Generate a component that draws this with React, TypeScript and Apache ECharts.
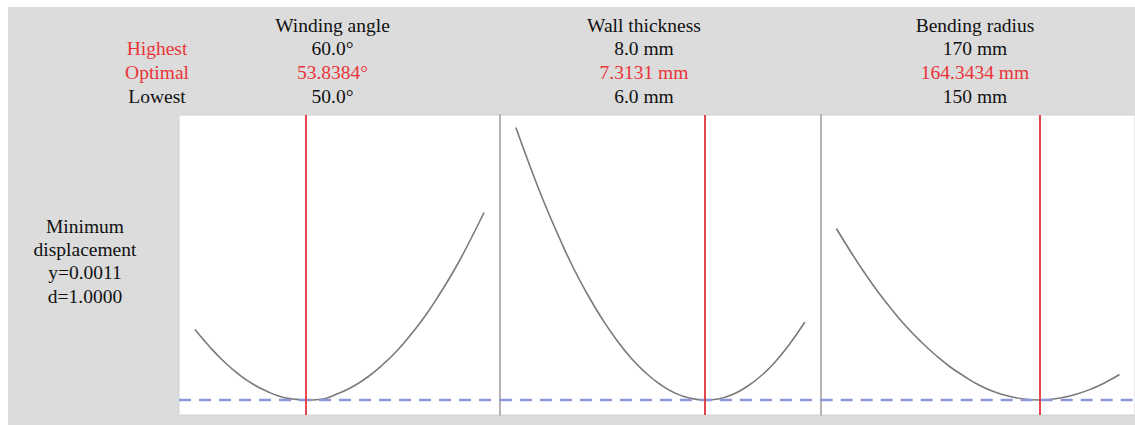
import React, { useEffect, useRef } from "react";
import * as echarts from "echarts";

const factorNames = ["Winding angle", "Wall thickness", "Bending radius"];
const highestLabels = ["60.0°", "8.0 mm", "170 mm"];
const optimalLabels = ["53.8384°", "7.3131 mm", "164.3434 mm"];
const lowestLabels = ["50.0°", "6.0 mm", "150 mm"];
const rowLabels = ["Highest", "Optimal", "Lowest"];
const lowValues = [50, 6, 150];
const highValues = [60, 8, 170];
const optimalValues = [53.8384, 7.3131, 164.3434];
const responseLabel = ["Minimum", "displacement", "y=0.0011", "d=1.0000"];
const targetY = 0.0011;

const windingX = [50, 50.5, 51, 51.5, 52, 52.5, 53, 53.4, 53.8384, 54.3, 55, 55.5, 56, 56.5, 57, 57.5, 58, 58.5, 59, 59.5, 60];
const windingY = [0.00251, 0.00217, 0.00187, 0.00162, 0.00142, 0.00127, 0.00116, 0.00112, 0.0011, 0.00111, 0.00124, 0.00138, 0.00157, 0.00181, 0.00209, 0.00243, 0.00281, 0.00325, 0.00373, 0.00427, 0.00485];
const wallX = [6.0, 6.1, 6.2, 6.3, 6.4, 6.5, 6.6, 6.7, 6.8, 6.9, 7.0, 7.1, 7.2, 7.3131, 7.4, 7.5, 7.6, 7.7, 7.8, 7.9, 8.0];
const wallY = [0.00655, 0.00576, 0.00502, 0.00435, 0.00373, 0.00319, 0.00271, 0.00229, 0.00193, 0.00164, 0.00141, 0.00124, 0.00114, 0.0011, 0.00112, 0.00121, 0.00137, 0.00159, 0.00188, 0.00224, 0.00266];
const radiusX = [150, 151, 152, 153, 154, 155, 156, 157, 158, 159, 160, 161, 162, 163, 164.3434, 165, 166, 167, 168, 169, 170];
const radiusY = [0.00453, 0.00407, 0.00364, 0.00324, 0.00288, 0.00255, 0.00226, 0.0020, 0.00177, 0.00158, 0.00141, 0.00128, 0.00119, 0.00113, 0.0011, 0.00111, 0.00115, 0.00122, 0.00132, 0.00145, 0.00161];

const curvesX = [windingX, wallX, radiusX];
const curvesY = [windingY, wallY, radiusY];

const FONT = "'Liberation Serif', 'Times New Roman', serif";
const RED = "#ea3438";

export default function App() {
  const ref = useRef<HTMLDivElement>(null);
  useEffect(() => {
    if (!ref.current) return;
    const chart = echarts.init(ref.current, undefined, { renderer: "svg" });
    const panelLeft = [179, 499.85, 820.7];
    const panelW = 320.85;
    const insetL = 16;
    const span = 289;
    const insetR = panelW - insetL - span;
    const headerX = [332.5, 644, 975];
    const rowsY = [25, 48.5, 72, 96];

    const grids = panelLeft.map((l) => ({
      left: l,
      top: 115,
      width: panelW,
      height: 300,
      show: true,
      backgroundColor: "#ffffff",
      borderColor: "#d2d2d2",
      borderWidth: 1,
    }));
    const ranges = lowValues.map((lo, i) => {
      const hi = highValues[i];
      const r = hi - lo;
      return [lo - (r * insetL) / span, hi + (r * insetR) / span];
    });
    const xAxes = ranges.map((rg, i) => ({
      type: "value",
      gridIndex: i,
      min: rg[0],
      max: rg[1],
      show: false,
    }));
    const yAxes = [0, 1, 2].map((i) => ({
      type: "value",
      gridIndex: i,
      min: 0.0008,
      max: 0.0068,
      axisLine: { show: i > 0, onZero: false, lineStyle: { color: "#b4b4b4", width: 2 } },
      axisTick: { show: false },
      axisLabel: { show: false },
      splitLine: { show: false },
    }));
    const series: any[] = [];
    [0, 1, 2].forEach((i) => {
      series.push({
        type: "line",
        xAxisIndex: i,
        yAxisIndex: i,
        data: curvesX[i].map((x, k) => [x, curvesY[i][k]]),
        smooth: 0.5,
        symbol: "none",
        z: 2,
        lineStyle: { color: "#7a7a7a", width: 1.6 },
      });
      series.push({
        type: "line",
        xAxisIndex: i,
        yAxisIndex: i,
        data: [
          [ranges[i][0], targetY],
          [ranges[i][1], targetY],
        ],
        symbol: "none",
        z: 3,
        lineStyle: { color: "#8c96da", width: 2.6, type: [12, 8] },
      });
      series.push({
        type: "line",
        xAxisIndex: i,
        yAxisIndex: i,
        data: [],
        z: 4,
        markLine: {
          silent: true,
          symbol: ["none", "none"],
          label: { show: false },
          lineStyle: { color: "#e0343c", width: 1.8, type: "solid" },
          data: [{ xAxis: optimalValues[i] }],
        },
      });
    });

    const texts: any[] = [];
    const mk = (x: number, y: number, t: string, color = "#111111") => ({
      type: "text",
      x,
      y,
      style: { text: t, fill: color, font: `19.5px ${FONT}`, align: "center", verticalAlign: "middle" },
    });
    rowLabels.forEach((t, r) => texts.push(mk(157, rowsY[r + 1], t, r < 2 ? RED : "#111111")));
    factorNames.forEach((n, i) => {
      texts.push(mk(headerX[i], rowsY[0], n));
      texts.push(mk(headerX[i], rowsY[1], highestLabels[i]));
      texts.push(mk(headerX[i], rowsY[2], optimalLabels[i], RED));
      texts.push(mk(headerX[i], rowsY[3], lowestLabels[i]));
    });
    responseLabel.forEach((t, r) => texts.push(mk(85, 226 + r * 23.4, t)));

    chart.setOption({
      animation: false,
      backgroundColor: "#dcdcdc",
      grid: grids,
      xAxis: xAxes,
      yAxis: yAxes,
      series,
      graphic: [
        { type: "rect", shape: { x: 0, y: 0, width: 1135, height: 7 }, style: { fill: "#ffffff" } },
        { type: "rect", shape: { x: 0, y: 0, width: 8, height: 425 }, style: { fill: "#ffffff" } },
        ...texts,
      ],
    });
    return () => chart.dispose();
  }, []);
  return <div ref={ref} style={{ position: "absolute", left: 0, top: 0, width: 1135, height: 425 }} />;
}
